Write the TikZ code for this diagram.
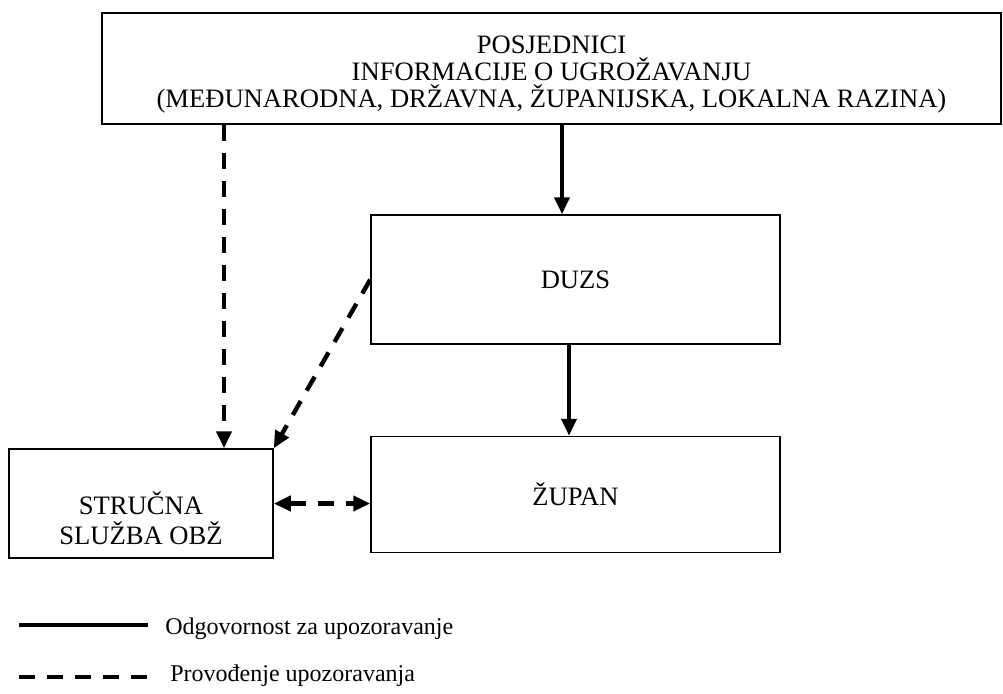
\documentclass[tikz,border=0pt]{standalone}
\usepackage{fontspec}
\setmainfont{Liberation Serif}
\usetikzlibrary{arrows.meta,positioning}

\begin{document}
\begin{tikzpicture}[%
	x=0.5pt, y=-0.5pt,
	>={Triangle[length=8.5pt,width=7.5pt]},
	font=\fontsize{13.3}{13.5}\selectfont,
	box/.style={draw, line width=0.75pt, inner sep=0pt, align=center},
	puna0/.style={draw,line width=2.2pt},
	puna/.style={puna0,->},
	crtkana0/.style={draw,line width=2.2pt,dash pattern=on 8pt off 6pt},
	crtkana/.style={crtkana0,->},
	legenda/.style={inner sep=0pt, font=\fontsize{12}{14}\selectfont}
]
\useasboundingbox (0,0) rectangle (1003,693);

\node[box, minimum width=449.5pt, minimum height=55.5pt] (posj) at (551.5,68.5)
	{\rule{0pt}{15pt}POSJEDNICI\\INFORMACIJE O UGROŽAVANJU\\(MEĐUNARODNA, DRŽAVNA, ŽUPANIJSKA, LOKALNA RAZINA)};

\node[box, minimum width=204.5pt, minimum height=64.5pt] (duzs) at (575.5,279.5) {DUZS};
\node[box, minimum width=204.5pt, minimum height=58pt, below=45.5pt of duzs] (zupan) {ŽUPAN};
\node[box, minimum width=132pt, minimum height=54.5pt, font=\fontsize{13.3}{15}\selectfont] (struc) at (141,503.5) {\rule{0pt}{26pt}STRUČNA\\SLUŽBA OBŽ};

\path[puna] ([xshift=-6.75pt]duzs.north |- posj.south) -- ([xshift=-6.75pt]duzs.north);
\path[puna] ([xshift=-3.25pt]duzs.south) -- ([xshift=-3.25pt]zupan.north);
\path[crtkana] ([xshift=41.5pt]struc.north |- posj.south) -- ([xshift=41.5pt]struc.north);
\path[crtkana] (duzs.west) -- (struc.north east);
\path[crtkana,<->] (struc.east) -- (struc.east -| zupan.west);

% legenda
\coordinate (l1a) at (19,625);
\coordinate (l1b) at (148,625);
\coordinate (l2a) at (19,677);
\coordinate (l2b) at (148,677);
\path[puna0] (l1a) -- (l1b);
\path[crtkana0] (l2a) -- (l2b);
\node[legenda, right=8.5pt of l1b, yshift=-2pt] (txt1) {Odgovornost za upozoravanje};
\node[legenda, right=11pt of l2b, yshift=0.75pt] (txt2) {Provođenje upozoravanja};

\end{tikzpicture}
\end{document}
